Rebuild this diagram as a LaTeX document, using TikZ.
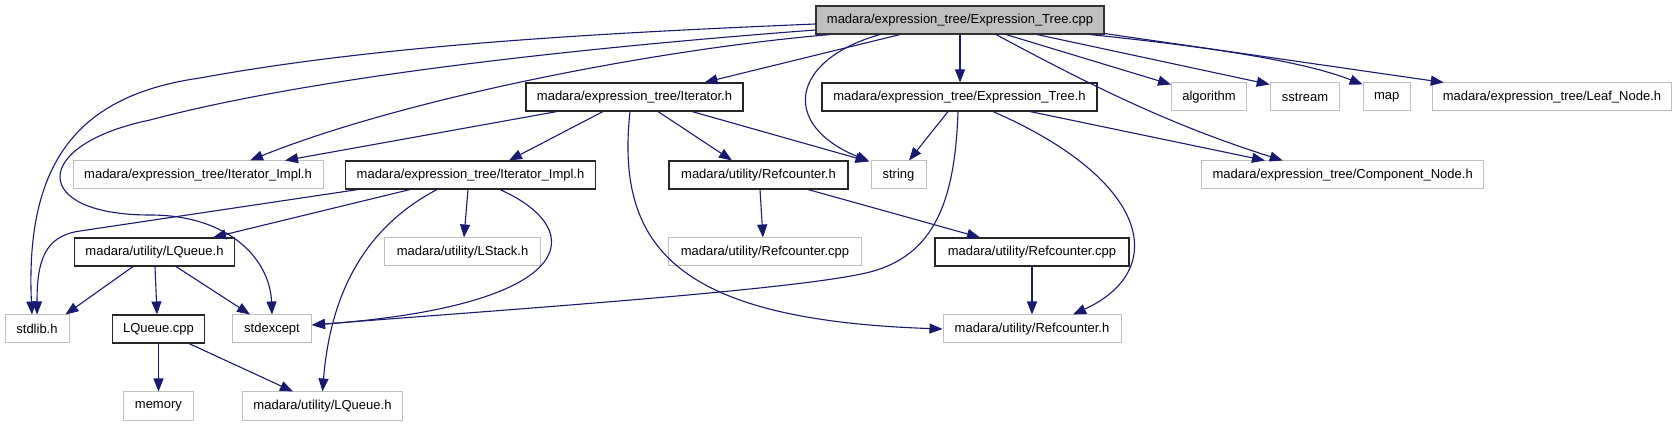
\documentclass[tikz,border=0pt]{standalone}
\usepackage{fontspec}
\setmainfont{Liberation Sans}
\usetikzlibrary{arrows.meta}
\definecolor{edgeblue}{HTML}{191970}
\definecolor{lightgr}{HTML}{BFBFBF}
\definecolor{rootfill}{HTML}{BFBFBF}
\tikzset{
  box/.style={rectangle, minimum height=28pt, inner sep=0pt, font=\fontsize{13}{15}\selectfont},
  blk/.style={box, draw=black!85, line width=1.1pt},
  gry/.style={box, draw=lightgr, line width=1pt},
  rootn/.style={box, draw=black!80, fill=rootfill, line width=1.1pt},
  dep/.style={draw=edgeblue, line width=1.1pt, -{Triangle[length=13pt,width=10pt]}}
}
\begin{document}
\begin{tikzpicture}[x=1pt,y=-1pt]
\useasboundingbox (0,0) rectangle (1676,427);
% nodes
\node[rootn, minimum width=288pt] (root) at (960,20) {madara/expression\_tree/Expression\_Tree.cpp};
\node[blk, minimum width=217pt] (iter) at (634.5,97) {madara/expression\_tree/Iterator.h};
\node[blk, minimum width=275pt] (exph) at (959.5,97) {madara/expression\_tree/Expression\_Tree.h};
\node[gry, minimum width=75pt] (algo) at (1209,97) {algorithm};
\node[gry, minimum width=69.5pt] (sstr) at (1305,97) {sstream};
\node[gry, minimum width=47pt] (map) at (1386.7,97) {map};
\node[gry, minimum width=239.5pt] (leaf) at (1552,97) {madara/expression\_tree/Leaf\_Node.h};
\node[gry, minimum width=250pt] (implg) at (198,175) {madara/expression\_tree/Iterator\_Impl.h};
\node[blk, minimum width=250pt] (implb) at (470.5,175) {madara/expression\_tree/Iterator\_Impl.h};
\node[blk, minimum width=179pt] (refh) at (758.5,175) {madara/utility/Refcounter.h};
\node[gry, minimum width=55pt] (str) at (898.5,175) {string};
\node[gry, minimum width=282pt] (comp) at (1342.7,175) {madara/expression\_tree/Component\_Node.h};
\node[blk, minimum width=160pt] (lqh) at (154.5,252) {madara/utility/LQueue.h};
\node[gry, minimum width=156pt] (lstack) at (462.5,252) {madara/utility/LStack.h};
\node[gry, minimum width=193pt] (refcppg) at (765,252) {madara/utility/Refcounter.cpp};
\node[blk, minimum width=194pt] (refcppb) at (1032,252) {madara/utility/Refcounter.cpp};
\node[gry, minimum width=64pt] (stdlib) at (37,329) {stdlib.h};
\node[blk, minimum width=92pt] (lqcpp) at (158.5,329) {LQueue.cpp};
\node[gry, minimum width=79pt] (stdexc) at (272,329) {stdexcept};
\node[gry, minimum width=178pt] (refhg) at (1032,329) {madara/utility/Refcounter.h};
\node[gry, minimum width=69.6pt] (memory) at (158.4,406) {memory};
\node[gry, minimum width=160pt] (lqhg) at (322.5,406) {madara/utility/LQueue.h};

% edges from root
\draw[dep] ([yshift=-4pt]root.west) .. controls (600,33) and (380,45) .. (200,78)
  .. controls (80,95) and (25,160) .. ([xshift=-5pt]stdlib.north);
\draw[dep] ([yshift=-10pt]root.west) .. controls (550,50) and (300,80) .. (150,120)
  .. controls (30,145) and (30,215) .. (150,215)
  .. controls (230,215) and (270,260) .. (stdexc.north);
\draw[dep] ([xshift=-130pt]root.south) .. controls (650,50) and (400,100) .. ([xshift=52pt]implg.north);
\draw[dep] ([xshift=-60pt]root.south) -- ([xshift=70pt]iter.north);
\draw[dep] ([xshift=-80pt]root.south) .. controls (790,60) and (780,125) .. ([xshift=-1pt,yshift=-1pt]str.north west);
\draw[dep] (root.south) -- (root.south |- exph.north);
\draw[dep] ([xshift=46pt]root.south) -- ([yshift=-2pt]algo.north west);
\draw[dep] ([xshift=77pt]root.south) -- ([yshift=-2pt]sstr.north west);
\draw[dep] ([xshift=130pt]root.south) .. controls (1200,46) and (1300,60) .. ([yshift=-2pt]map.north west);
\draw[dep] ([yshift=1pt]root.south east) -- ([xshift=12pt]leaf.north west);
\draw[dep] ([xshift=36pt]root.south) .. controls (1090,85) and (1170,125) .. ([xshift=-60pt]comp.north);

% edges from Iterator.h
\draw[dep] ([xshift=-77.5pt]iter.south) -- ([xshift=87pt]implg.north);
\draw[dep] ([xshift=-31.5pt]iter.south) -- ([xshift=38.5pt]implb.north);
\draw[dep] ([xshift=23.5pt]iter.south) -- ([xshift=-26.5pt]refh.north);
\draw[dep] ([xshift=57.5pt]iter.south) -- ([xshift=-2pt,yshift=-1pt]str.north west);
\draw[dep] ([xshift=-4.5pt]iter.south) .. controls (615,250) and (680,320) .. (refhg.west);

% edges from Expression_Tree.h
\draw[dep] ([xshift=-11.5pt]exph.south) -- ([xshift=10.5pt]str.north);
\draw[dep] ([xshift=-1.5pt]exph.south) .. controls (955,200) and (935,255) .. (870,272)
  .. controls (800,290) and (500,310) .. ([yshift=4pt]stdexc.east);
\draw[dep] ([xshift=33.5pt]exph.south) .. controls (1150,180) and (1170,270) .. ([xshift=41pt]refhg.north);
\draw[dep] ([xshift=70.5pt]exph.south) -- ([xshift=-77.7pt]comp.north);

% edges from Iterator_Impl.h
\draw[dep] ([xshift=-112.5pt]implb.south) -- (80,231) .. controls (45,236) and (37,260) .. (stdlib.north);
\draw[dep] ([xshift=-60.5pt]implb.south) -- ([xshift=58.5pt]lqh.north);
\draw[dep] ([xshift=-2.5pt]implb.south) -- ([xshift=1.5pt]lstack.north);
\draw[dep] ([xshift=-33.5pt]implb.south) .. controls (360,230) and (330,300) .. (lqhg.north);
\draw[dep] ([xshift=29.5pt]implb.south) .. controls (590,230) and (580,305) .. ([yshift=4pt]stdexc.east);

% edges from LQueue.h
\draw[dep] ([xshift=-21.5pt]lqh.south) -- ([xshift=-4pt]stdlib.north east);
\draw[dep] ([xshift=0.5pt]lqh.south) -- ([xshift=-1.5pt]lqcpp.north);
\draw[dep] ([xshift=21.5pt]lqh.south) -- ([xshift=-22pt]stdexc.north);

% edges from LQueue.cpp
\draw[dep] (lqcpp.south) -- (lqcpp.south |- memory.north);
\draw[dep] ([xshift=30.5pt]lqcpp.south) -- ([xshift=-29.5pt]lqhg.north);

% edges from Refcounter.h
\draw[dep] ([xshift=1.5pt]refh.south) -- ([xshift=-2pt]refcppg.north);
\draw[dep] ([xshift=49.5pt]refh.south) -- ([xshift=-52pt]refcppb.north);

% edge from Refcounter.cpp
\draw[dep] (refcppb.south) -- (refhg.north);
\end{tikzpicture}
\end{document}
